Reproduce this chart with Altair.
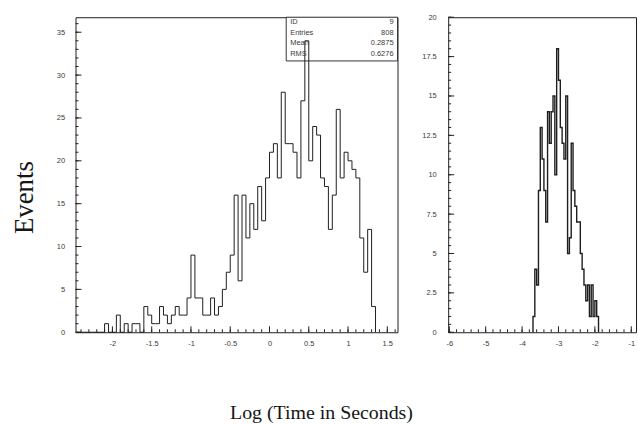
import altair as alt
import pandas as pd

# ---------------- data ----------------
# left panel: bin counts, bins of 0.05 starting at -2.45
left_start = -2.45
left_bin = 0.05
left_counts = [0, 0, 0, 0, 0, 0, 0, 1, 0, 0, 2, 0, 1, 0, 1, 1, 0, 3, 2, 1,
               1, 3, 2, 1, 2, 3, 2, 2, 4, 9, 4, 4, 2, 2, 4, 2, 3, 5, 7, 9,
               16, 6, 16, 11, 15, 12, 17, 13, 18, 21, 22, 18, 28, 22, 22, 21, 18, 27, 34, 20,
               24, 23, 18, 17, 12, 16, 26, 18, 21, 20, 19, 18, 11, 7, 12, 3]

# right panel: bin counts, bins of 0.05 starting at -3.70
right_start = -3.70
right_bin = 0.05
right_counts = [1, 4, 3, 9, 13, 11, 9, 7, 14, 12, 14, 15, 10, 18, 16, 13, 12, 11, 15, 5,
                6, 12, 9, 8, 7, 7, 5, 4, 3, 2, 3, 1, 3, 1, 2, 1]

left_x_major = [-2, -1.5, -1, -0.5, 0, 0.5, 1, 1.5]
left_x_minor = [round(-2.4 + 0.1 * i, 2) for i in range(41)]
left_y_major = [0, 5, 10, 15, 20, 25, 30, 35]
left_y_minor = list(range(0, 37))
right_x_major = [-6, -5, -4, -3, -2, -1]
right_x_minor = [round(-6 + 0.2 * i, 2) for i in range(26)]
right_y_major = [0, 2.5, 5, 7.5, 10, 12.5, 15, 17.5, 20]
right_y_minor = [round(0.5 * i, 1) for i in range(41)]

stats_names = ["ID", "Entries", "Mean", "RMS"]
stats_values = ["9", "808", "0.2875", "0.6276"]


def steps(start, width, counts):
    edges = [start + width * i for i in range(len(counts) + 1)]
    xs = [edges[0]] + edges[:-1] + [edges[-1]]
    ys = [0] + list(counts) + [0]
    return pd.DataFrame({"x": xs, "y": ys, "i": list(range(len(xs)))})


INK = "#1e1e1e"
LAB = "#3a3a3a"
TICK = "#222222"
FMT = "replace(format(datum.value, '~g'), '\u2212', '-')"


def panel(df, xdom, ydom, xmaj, xmin, ymaj, ymin, w, h, xaxis_extra, yaxis_extra, ylabpad, lw):
    def xsc():
        return alt.Scale(domain=xdom, nice=False, zero=False)

    def ysc():
        return alt.Scale(domain=ydom, nice=False, zero=True)

    xaxis = alt.Axis(orient="bottom", values=xmaj, labelExpr=FMT, ticks=False,
                     labelPadding=7, **xaxis_extra)
    yaxis = alt.Axis(orient="left", values=ymaj, labelExpr=FMT, ticks=False,
                     labelPadding=ylabpad, **yaxis_extra)
    line = alt.Chart(df).mark_line(
        interpolate="step-after", color=INK, strokeWidth=lw
    ).encode(
        x=alt.X("x:Q", scale=xsc(), axis=xaxis),
        y=alt.Y("y:Q", scale=ysc(), axis=yaxis),
        order="i:Q",
    )
    layers = []
    for vals, size in ((xmin, 3), (xmaj, 6)):
        layers.append(
            alt.Chart(pd.DataFrame({"tx": vals})).mark_rule(color=TICK, strokeWidth=1).encode(
                x=alt.X("tx:Q", scale=xsc(), axis=None),
                y=alt.value(h), y2=alt.value(h - size),
            )
        )
    for vals, size in ((ymin, 3), (ymaj, 6)):
        layers.append(
            alt.Chart(pd.DataFrame({"ty": vals})).mark_rule(color=TICK, strokeWidth=1).encode(
                y=alt.Y("ty:Q", scale=ysc(), axis=None),
                x=alt.value(0), x2=alt.value(size),
            )
        )
    return line, layers


left_df = steps(left_start, left_bin, left_counts)
right_df = steps(right_start, right_bin, right_counts)

l_line, l_ticks = panel(
    left_df, [-2.47, 1.63], [0, 36.75], left_x_major, left_x_minor,
    left_y_major, left_y_minor, 324, 317,
    dict(title="Log (Time in Seconds)", titleX=247, titleY=81, titleFontSize=20,
         titleBaseline="middle", titleAlign="center"),
    dict(title="Events", titleX=-51, titleY=181, titleFontSize=27, titleAngle=270,
         titleBaseline="middle", titleAlign="center"),
    11, 1,
)

box = alt.Chart(pd.DataFrame({"a": [0]})).mark_rect(
    fill="white", stroke="#333", strokeWidth=1
).encode(x=alt.value(212), x2=alt.value(324), y=alt.value(0), y2=alt.value(44))

stats_layers = []
for k, (nm, vl) in enumerate(zip(stats_names, stats_values)):
    ypix = 5 + 10.7 * k
    stats_layers.append(
        alt.Chart(pd.DataFrame({"t": [nm]})).mark_text(
            align="left", baseline="middle", font="Liberation Sans", fontSize=7.5, color=LAB
        ).encode(x=alt.value(216), y=alt.value(ypix), text="t:N")
    )
    stats_layers.append(
        alt.Chart(pd.DataFrame({"t": [vl]})).mark_text(
            align="right", baseline="middle", font="Liberation Sans", fontSize=7.5, color=LAB
        ).encode(x=alt.value(320), y=alt.value(ypix), text="t:N")
    )

left = alt.layer(box, l_line, *stats_layers, *l_ticks).resolve_scale(
    x="independent", y="independent"
).properties(width=324, height=317)

r_line, r_ticks = panel(
    right_df, [-6.03, -0.87], [0, 20], right_x_major, right_x_minor,
    right_y_major, right_y_minor, 189, 317,
    dict(title=None), dict(title=None), 12, 1.4,
)
right = alt.layer(r_line, *r_ticks).resolve_scale(
    x="independent", y="independent"
).properties(width=189, height=317)

chart = alt.hconcat(left, right, spacing=51, bounds="flush").properties(
    padding={"left": 10, "top": 11, "right": 1, "bottom": 0},
    background="white",
).configure_view(
    stroke=INK, strokeWidth=1
).configure_axis(
    domain=False, grid=False,
    labelFont="Liberation Sans", labelFontSize=7.5, labelColor=LAB,
    titleFont="Liberation Serif", titleFontWeight="normal", titleColor="#151515",
)

chart.save("out.html", embed_options={"renderer": "svg", "actions": False})
